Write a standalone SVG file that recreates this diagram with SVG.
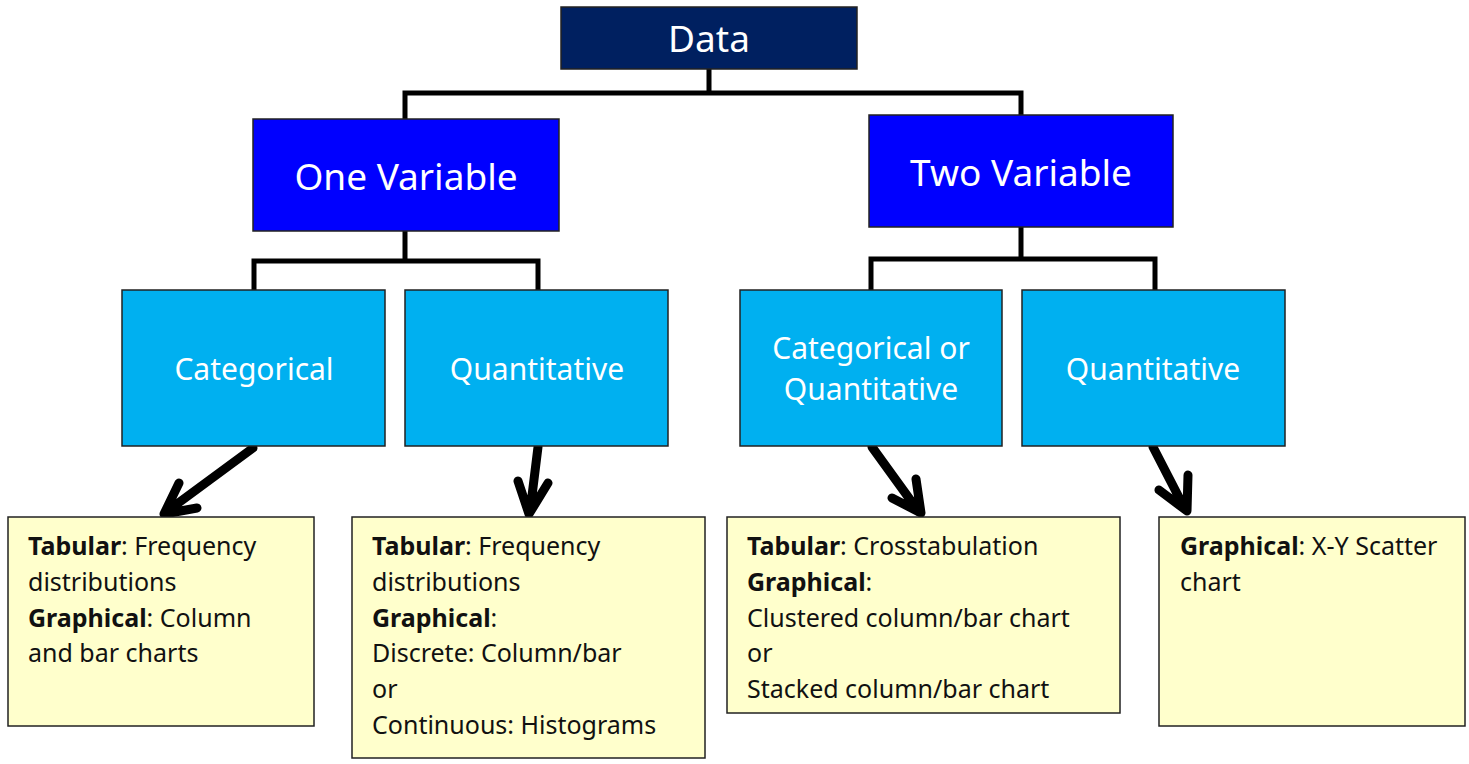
<svg xmlns="http://www.w3.org/2000/svg" width="1469" height="764" viewBox="0 0 1469 764">
<style>
.box{stroke:#222;stroke-width:1.5}
.navy{fill:#002060}
.blue{fill:#0000FF}
.cyan{fill:#00B0F0}
.note{fill:#FFFFCC}
.hdr{font-family:"Noto Sans","Open Sans",sans-serif;fill:#fff;text-anchor:middle}
.txt{font-family:"Noto Sans","Open Sans",sans-serif;font-size:25px;fill:#111}
.b{font-weight:bold}
.conn{fill:none;stroke:#000;stroke-width:5;stroke-linejoin:miter}
.arr{fill:none;stroke:#000;stroke-width:9;stroke-linecap:round;stroke-linejoin:round}
</style>
<rect width="1469" height="764" fill="#fff"/>
<g id="connectors">
<path class="conn" d="M709,69 V93 M405,119 V93 H1021 V115"/>
<path class="conn" d="M405,231 V261 M254,290 V261 H538 V290"/>
<path class="conn" d="M1021,227 V259 M871,290 V259 H1155 V290"/>
<path class="arr" d="M253,448 L166,512 M179,483 L164,514 L197,508"/>
<path class="arr" d="M538,447 L530,512 M518,481 L529,514 L548,483"/>
<path class="arr" d="M872,447 L919,512 M916,479 L921,513 L892,498"/>
<path class="arr" d="M1153,447 L1185,509 M1188,475 L1187,511 L1159,490"/>
</g>
<g id="data">
<rect class="box navy" x="561" y="7" width="296" height="62"/>
<text class="hdr" x="709" y="52" font-size="37">Data</text>
</g>
<g id="one-variable">
<rect class="box blue" x="253" y="119" width="306" height="112"/>
<text class="hdr" x="406" y="190" font-size="37">One Variable</text>
</g>
<g id="two-variable">
<rect class="box blue" x="869" y="115" width="304" height="112"/>
<text class="hdr" x="1021" y="186" font-size="37">Two Variable</text>
</g>
<g id="categorical">
<rect class="box cyan" x="122" y="290" width="263" height="156"/>
<text class="hdr" x="254" y="380" font-size="30">Categorical</text>
</g>
<g id="quantitative-1">
<rect class="box cyan" x="405" y="290" width="263" height="156"/>
<text class="hdr" x="537" y="380" font-size="30">Quantitative</text>
</g>
<g id="cat-or-quant">
<rect class="box cyan" x="740" y="290" width="262" height="156"/>
<text class="hdr" x="871" y="359" font-size="30">Categorical or</text>
<text class="hdr" x="871" y="400" font-size="30">Quantitative</text>
</g>
<g id="quantitative-2">
<rect class="box cyan" x="1022" y="290" width="263" height="156"/>
<text class="hdr" x="1153" y="380" font-size="30">Quantitative</text>
</g>
<g id="note-1">
<rect class="box note" x="8" y="517" width="306" height="209"/>
<text class="txt" x="28" y="555"><tspan class="b">Tabular</tspan>: Frequency</text>
<text class="txt" x="28" y="591">distributions</text>
<text class="txt" x="28" y="627"><tspan class="b">Graphical</tspan>: Column</text>
<text class="txt" x="28" y="662">and bar charts</text>
</g>
<g id="note-2">
<rect class="box note" x="352" y="517" width="353" height="241"/>
<text class="txt" x="372" y="555"><tspan class="b">Tabular</tspan>: Frequency</text>
<text class="txt" x="372" y="591">distributions</text>
<text class="txt" x="372" y="627"><tspan class="b">Graphical</tspan>:</text>
<text class="txt" x="372" y="662">Discrete: Column/bar</text>
<text class="txt" x="372" y="698">or</text>
<text class="txt" x="372" y="734">Continuous: Histograms</text>
</g>
<g id="note-3">
<rect class="box note" x="727" y="517" width="393" height="196"/>
<text class="txt" x="747" y="555"><tspan class="b">Tabular</tspan>: Crosstabulation</text>
<text class="txt" x="747" y="591"><tspan class="b">Graphical</tspan>:</text>
<text class="txt" x="747" y="627">Clustered column/bar chart</text>
<text class="txt" x="747" y="662">or</text>
<text class="txt" x="747" y="698">Stacked column/bar chart</text>
</g>
<g id="note-4">
<rect class="box note" x="1159" y="517" width="306" height="209"/>
<text class="txt" x="1180" y="555"><tspan class="b">Graphical</tspan>: X-Y Scatter</text>
<text class="txt" x="1180" y="591">chart</text>
</g>
</svg>
